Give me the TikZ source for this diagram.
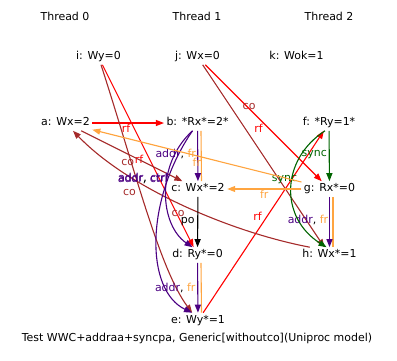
\documentclass[tikz,border=0pt]{standalone}
\usepackage{fontspec}
\setmainfont{DejaVu Sans}
\usetikzlibrary{arrows.meta}
\definecolor{rfred}{RGB}{255,0,0}
\definecolor{cobrown}{RGB}{165,42,42}
\definecolor{frorange}{RGB}{255,165,64}
\definecolor{addrpurple}{RGB}{75,0,130}
\definecolor{syncgreen}{RGB}{0,100,0}

\begin{document}
\begin{tikzpicture}[x=1bp,y=-1bp,>={Triangle[length=8bp,width=6bp]},
  font=\fontsize{11}{13}\selectfont,line width=1.1bp,
  ev/.style={inner sep=2bp,text height=8bp,text depth=2.5bp},
  lbl/.style={inner sep=0pt},
  rfedge/.style={->,draw=rfred},
  coedge/.style={->,draw=cobrown},
  fredge/.style={->,draw=frorange},
  addredge/.style={->,draw=addrpurple},
  syncedge/.style={->,draw=syncgreen},
  poedge/.style={->,draw=black}]
  \useasboundingbox (0,0) rectangle (397,361);
  \node[ev] (t0) at (65,18) {Thread 0};
  \node[ev] (t1) at (197,18) {Thread 1};
  \node[ev] (t2) at (329,18) {Thread 2};
  \node[ev] (i) at (98.5,57) {i: Wy=0};
  \node[ev] (j) at (197.5,57) {j: Wx=0};
  \node[ev] (k) at (296.5,57) {k: Wok=1};
  \node[ev] (a) at (65.5,123) {a: Wx=2};
  \node[ev] (b) at (197.5,123) {b: *Rx*=2*};
  \node[ev] (f) at (329,123) {f: *Ry=1*};
  \node[ev] (c) at (198,189) {c: Wx*=2};
  \node[ev] (g) at (329.5,189) {g: Rx*=0};
  \node[ev] (d) at (197.5,255) {d: Ry*=0};
  \node[ev] (h) at (329.5,255) {h: Wx*=1};
  \node[ev] (e) at (198,320.5) {e: Wy*=1};
  \node[ev] (cap) at (197,339) {Test WWC+addraa+syncpa, Generic[withoutco](Uniproc model)};

  \draw[rfedge] (a) -- (b) node[lbl,midway,shift={(-2,5)},text=rfred] {rf};
  \draw[rfedge] (i) -- (d) node[lbl,midway,shift={(-9,3)},text=rfred] {rf};
  \draw[rfedge] (j) -- (g) node[lbl,midway,shift={(-5,5)},text=rfred] {rf};
  \draw[rfedge] (e) -- (f) node[lbl,midway,shift={(-6,-5)},text=rfred] {rf};

  \draw[coedge] (i) .. controls (135,170) and (160,270) .. (e)
    node[lbl,pos=.4,shift={(-9,7)},text=cobrown] {co};
  \draw[coedge] (j) -- (h) node[lbl,pos=.25,shift={(16,-4)},text=cobrown] {co};
  \draw[coedge] (a) -- (c) node[lbl,midway,shift={(-4,7)},text=cobrown] {co};
  \draw[coedge] ([xshift=10bp]h.north west) .. controls (230,232) and (128,188) .. (a)
    node[lbl,midway,shift={(-4,9)},text=cobrown] {co};

  \draw[addredge] ([xshift=-5bp]b.south) .. controls (155,165) and (160,225) .. ([xshift=-5bp]d.north)
    node[lbl,midway,shift={(-23,-16)}] {{\color{addrpurple}addr}, {\color{addrpurple}ctrl}};
  \draw[addredge] ([xshift=-5bp]b.south) .. controls (145,200) and (145,290) .. ([xshift=-6bp]e.north)
    node[lbl,pos=.25,shift={(-23,-6)}] {{\color{addrpurple}addr}, {\color{addrpurple}ctrl}};

  \draw[frorange] ([xshift=3.5bp]b.south) -- ([xshift=3.5bp]c.north);
  \draw[addredge] (b) -- (c)
    node[lbl,midway,shift={(-22,-2)}] {{\color{addrpurple}addr}, {\color{frorange}fr}};
  \draw[frorange] ([xshift=3.5bp]d.south) -- ([xshift=3.5bp]e.north);
  \draw[addredge] (d) -- (e)
    node[lbl,midway,shift={(-22.5,0)}] {{\color{addrpurple}addr}, {\color{frorange}fr}};
  \draw[frorange] ([xshift=3.5bp]g.south) -- ([xshift=3.5bp]h.north);
  \draw[addredge] (g) -- (h)
    node[lbl,midway,shift={(-21.5,-2)}] {{\color{addrpurple}addr}, {\color{frorange}fr}};

  \draw[poedge] (c) -- (d) node[lbl,midway,shift={(-10,0)}] {po};

  \draw[syncedge] (f) -- (g) node[lbl,midway,shift={(-15,-1)},text=syncgreen] {sync};
  \draw[syncedge] ([xshift=-4bp]f.south) .. controls (280,160) and (280,218) .. ([xshift=-3bp]h.north)
    node[lbl,midway,shift={(-7,-9)},text=syncgreen] {sync};

  \draw[fredge] (g) -- (c) node[lbl,midway,shift={(0,5)},text=frorange] {fr};
  \draw[fredge] (g) -- (a) node[lbl,midway,shift={(0,6)},text=frorange] {fr};
\end{tikzpicture}
\end{document}
